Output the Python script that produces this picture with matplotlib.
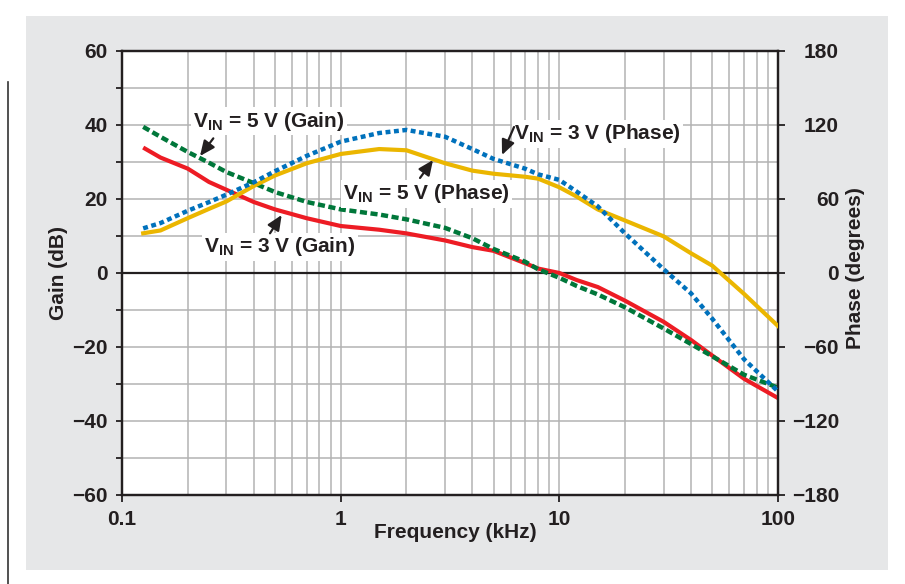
import matplotlib
matplotlib.use("Agg")
import matplotlib.pyplot as plt
from matplotlib.patches import Rectangle
from matplotlib.lines import Line2D
from matplotlib.ticker import FixedLocator, NullFormatter, LogLocator

plt.rcParams['font.family'] = ['Liberation Sans', 'DejaVu Sans']
plt.rcParams['font.weight'] = 'bold'
plt.rcParams['mathtext.fontset'] = 'custom'
plt.rcParams['mathtext.rm'] = 'Liberation Sans:bold'
plt.rcParams['mathtext.bf'] = 'Liberation Sans:bold'
plt.rcParams['mathtext.it'] = 'Liberation Sans:bold'

# ---------------- data ----------------
freq_khz = [0.125, 0.15, 0.2, 0.25, 0.3, 0.4, 0.5, 0.7, 1, 1.5, 2, 3, 4, 5, 7, 8,
            10, 12, 15, 20, 30, 40, 50, 70, 100]
gain_3v = [33.9, 31.2, 28.2, 24.6, 22.5, 19.2, 17.2, 14.8, 12.7, 11.7, 10.7, 8.8, 7.0,
           6.0, 2.6, 1.2, 0.0, -1.9, -3.8, -7.5, -13.2, -18.1, -22.3, -28.6, -33.8]
gain_5v = [39.5, 36.8, 32.7, 29.8, 27.3, 24.3, 21.9, 19.2, 17.2, 15.8, 14.5, 12.2, 9.4,
           6.5, 3.0, 1.0, -1.3, -3.5, -5.8, -9.3, -15.0, -19.2, -22.5, -27.5, -31.0]
phase_3v = [36.2, 40.5, 50.5, 57.5, 63.5, 73.5, 82.5, 95, 106.5, 113.5, 116, 110.5, 100.5,
            92.5, 84.5, 80, 75.5, 66, 54, 32, 3, -16.5, -37, -70, -96]
phase_5v = [32.2, 34.5, 44.5, 52, 58, 70.5, 79, 89, 96.5, 100.5, 99.5, 89, 83,
            80.5, 78, 76.5, 69.5, 62, 51.5, 42.5, 29.7, 16, 6, -17, -43]

gain_ticks = [-60, -40, -20, 0, 20, 40, 60]
phase_ticks = [-180, -120, -60, 0, 60, 120, 180]
freq_ticks = [0.1, 1, 10, 100]
freq_ticklabels = ['0.1', '1', '10', '100']

# ---------------- figure ----------------
fig = plt.figure(figsize=(9.05, 5.84), dpi=100)
fig.patch.set_facecolor('white')
W, H = 905.0, 584.0
fig.patches.append(Rectangle((26 / W, 1 - 570 / H), 862 / W, 554 / H,
                             transform=fig.transFigure, facecolor='#e6e7e8',
                             edgecolor='none', zorder=-10))
fig.lines.append(Line2D([7.5 / W, 7.5 / W], [0, 1 - 82 / H], transform=fig.transFigure,
                        color='#333333', lw=1.2, zorder=-10))

ax = fig.add_axes([122 / W, 1 - 495 / H, 656 / W, 444 / H])
ax.set_facecolor('white')
ax.set_xscale('log')
ax.set_xlim(0.1, 100)
ax.set_ylim(-60, 60)

grid_c = '#b3b3b3'
ax.xaxis.set_major_locator(FixedLocator(freq_ticks))
ax.set_xticklabels(freq_ticklabels)
ax.xaxis.set_minor_locator(LogLocator(base=10, subs=range(2, 10)))
ax.xaxis.set_minor_formatter(NullFormatter())
ax.set_yticks(gain_ticks)
ax.set_yticks(list(range(-50, 60, 20)), minor=True)
ax.grid(True, which='both', color=grid_c, lw=1.1, zorder=1)
ax.set_axisbelow(True)

ax.tick_params(axis='x', which='major', direction='out', length=5, width=1.3, pad=6,
               labelsize=15, colors='#231f20')
ax.tick_params(axis='x', which='minor', length=0)
ax.tick_params(axis='y', which='both', direction='out', length=4.5, width=1.3, pad=6,
               labelsize=15, colors='#231f20')
for sp in ax.spines.values():
    sp.set_color('#231f20')
    sp.set_linewidth(1.6)

ax.axhline(0, color='#231f20', lw=1.6, zorder=2)

ax.plot(freq_khz, gain_3v, color='#ed1c24', lw=3.0, solid_capstyle='butt', zorder=4)
ax.plot(freq_khz, gain_5v, color='#00773a', lw=3.2, linestyle=(0, (1.6, 0.8)), zorder=5)

ax2 = ax.twinx()
ax2.set_ylim(-180, 180)
ax2.set_yticks(phase_ticks)
ax2.tick_params(axis='y', direction='out', length=5, width=1.3, pad=39,
                labelsize=15, colors='#231f20')
for lab in ax2.get_yticklabels():
    lab.set_horizontalalignment('right')
for sp in ax2.spines.values():
    sp.set_color('#231f20')
    sp.set_linewidth(1.6)
ax2.plot(freq_khz, phase_5v, color='#ebb600', lw=3.0, zorder=4)
ax2.plot(freq_khz, phase_3v, color='#0071bc', lw=3.2, linestyle=(0, (1.1, 0.8)), zorder=5)

# axis labels
ax.set_xlabel('Frequency (kHz)', fontsize=15, fontweight='bold', color='#231f20')
ax.xaxis.set_label_coords((455 - 122) / 656, (495 - 533) / 444)
ax.xaxis.label.set_va('center')
ax.set_ylabel('Gain (dB)', fontsize=15, fontweight='bold', color='#231f20')
ax.yaxis.set_label_coords((58 - 122) / 656, 0.5)
ax.yaxis.label.set_va('center')
ax2.set_ylabel('Phase (degrees)', fontsize=15, fontweight='bold', color='#231f20')
ax2.yaxis.set_label_coords((855 - 122) / 656, (495 - 268) / 444)
ax2.yaxis.label.set_va('center')

# annotations
def label(txt, x, y):
    ax2.text(x, y, txt, transform=ax.transAxes, ha='left', va='center', fontsize=15,
             fontweight='bold', color='#231f20', zorder=6,
             bbox=dict(facecolor='white', edgecolor='none', pad=1.5))

def arrow(tail, tip):
    ax2.annotate('', xy=tip, xycoords=ax.transAxes, xytext=tail, textcoords=ax.transAxes,
                 arrowprops=dict(arrowstyle='-|>,head_length=0.9,head_width=0.4',
                                 color='#231f20', lw=1.6, shrinkA=0, shrinkB=0),
                 zorder=7)

label(r'V$_{\mathrm{IN}}$ = 5 V (Gain)', 0.1082, 0.8423)
arrow((0.1392, 0.8033), (0.1189, 0.7635))
label(r'V$_{\mathrm{IN}}$ = 3 V (Gain)', 0.125, 0.5586)
arrow((0.2256, 0.5894), (0.2434, 0.6306))
label(r'V$_{\mathrm{IN}}$ = 5 V (Phase)', 0.3369, 0.678)
arrow((0.4543, 0.714), (0.4741, 0.7545))
label(r'V$_{\mathrm{IN}}$ = 3 V (Phase)', 0.5976, 0.8131)
arrow((0.5976, 0.8288), (0.5793, 0.7658))

fig.savefig('out.png', dpi=100, facecolor='white')
